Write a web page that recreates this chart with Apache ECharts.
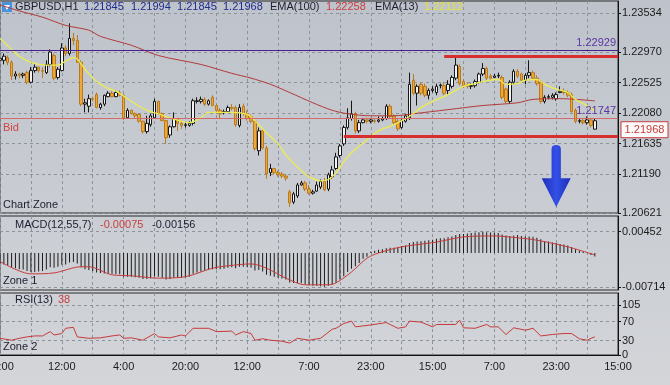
<!DOCTYPE html>
<html><head><meta charset="utf-8">
<script src="https://cdn.jsdelivr.net/npm/echarts@6/dist/echarts.min.js"></script>
<style>html,body{margin:0;padding:0;background:#c9cdd3;}#c{width:670px;height:385px;}</style>
</head><body><div id="c"></div>
<script>
// ---------- data ----------
const timeLabels = ['20:00','12:00','4:00','20:00','12:00','7:00','23:00','15:00','7:00','23:00','15:00'];
const priceTicks = [1.20621,1.21190,1.21635,1.22080,1.22525,1.22970,1.23534];
const macdTicks = [-0.00714, 0.00452];
const rsiTicks = [0,30,70,105];
// [open, close, low, high]
const candles = [
[1.2285,1.2288,1.2281,1.2292],[1.2285,1.2291,1.2279,1.2295],[1.2289,1.2282,1.2278,1.2292],[1.2282,1.2262,1.2256,1.2285],
[1.2262,1.2265,1.2257,1.2269],[1.2265,1.2263,1.2259,1.2267],[1.2263,1.2265,1.2259,1.2267],[1.2267,1.2253,1.2250,1.2270],
[1.2253,1.2270,1.2251,1.2275],[1.2270,1.2275,1.2267,1.2279],[1.2275,1.2270,1.2267,1.2276],[1.2270,1.2269,1.2259,1.2275],
[1.2267,1.2279,1.2265,1.2285],[1.2279,1.2297,1.2276,1.2301],[1.2292,1.2259,1.2256,1.2295],[1.2260,1.2272,1.2257,1.2275],
[1.2270,1.2303,1.2269,1.2310],[1.2303,1.2295,1.2291,1.2307],[1.2295,1.2317,1.2292,1.2339],[1.2317,1.2314,1.2307,1.2325],
[1.2314,1.2282,1.2281,1.2322],[1.2282,1.2221,1.2218,1.2285],[1.2221,1.2223,1.2209,1.2229],[1.2218,1.2229,1.2209,1.2235],
[1.2229,1.2228,1.2225,1.2232],[1.2235,1.2216,1.2215,1.2238],[1.2216,1.2221,1.2213,1.2223],[1.2221,1.2234,1.2218,1.2235],
[1.2232,1.2237,1.2231,1.2240],[1.2237,1.2232,1.2231,1.2240],[1.2232,1.2238,1.2231,1.2241],[1.2238,1.2234,1.2232,1.2241],
[1.2234,1.2201,1.2198,1.2235],[1.2201,1.2212,1.2200,1.2215],[1.2212,1.2207,1.2206,1.2213],[1.2207,1.2204,1.2201,1.2209],
[1.2206,1.2196,1.2194,1.2207],[1.2196,1.2181,1.2178,1.2197],[1.2181,1.2193,1.2178,1.2204],[1.2191,1.2204,1.2188,1.2207],
[1.2201,1.2225,1.2200,1.2229],[1.2225,1.2207,1.2206,1.2226],[1.2207,1.2197,1.2196,1.2209],[1.2197,1.2172,1.2163,1.2198],
[1.2176,1.2188,1.2172,1.2190],[1.2188,1.2200,1.2187,1.2209],[1.2200,1.2193,1.2182,1.2201],[1.2193,1.2190,1.2185,1.2197],
[1.2190,1.2191,1.2187,1.2194],[1.2190,1.2193,1.2188,1.2196],[1.2193,1.2226,1.2190,1.2229],[1.2225,1.2226,1.2222,1.2231],
[1.2225,1.2228,1.2222,1.2232],[1.2228,1.2221,1.2218,1.2231],[1.2221,1.2226,1.2219,1.2228],[1.2231,1.2219,1.2218,1.2234],
[1.2219,1.2212,1.2209,1.2221],[1.2212,1.2207,1.2200,1.2215],[1.2209,1.2210,1.2206,1.2213],[1.2210,1.2216,1.2209,1.2219],
[1.2216,1.2215,1.2212,1.2221],[1.2216,1.2191,1.2188,1.2219],[1.2190,1.2216,1.2187,1.2221],[1.2218,1.2207,1.2204,1.2222],
[1.2207,1.2200,1.2197,1.2212],[1.2203,1.2196,1.2193,1.2206],[1.2196,1.2156,1.2153,1.2198],[1.2153,1.2182,1.2146,1.2187],
[1.2182,1.2157,1.2155,1.2185],[1.2157,1.2119,1.2112,1.2160],[1.2121,1.2127,1.2116,1.2134],[1.2127,1.2121,1.2118,1.2128],
[1.2121,1.2118,1.2115,1.2124],[1.2119,1.2116,1.2113,1.2122],[1.2116,1.2113,1.2109,1.2119],[1.2093,1.2077,1.2071,1.2096],
[1.2078,1.2090,1.2075,1.2093],[1.2087,1.2103,1.2084,1.2106],[1.2103,1.2106,1.2102,1.2109],[1.2106,1.2097,1.2094,1.2109],
[1.2097,1.2091,1.2089,1.2103],[1.2091,1.2093,1.2089,1.2096],[1.2094,1.2103,1.2093,1.2108],[1.2100,1.2108,1.2097,1.2111],
[1.2108,1.2096,1.2094,1.2113],[1.2097,1.2118,1.2094,1.2121],[1.2115,1.2125,1.2112,1.2131],[1.2127,1.2144,1.2125,1.2150],
[1.2146,1.2160,1.2143,1.2163],[1.2163,1.2187,1.2160,1.2190],[1.2187,1.2201,1.2184,1.2215],[1.2200,1.2207,1.2197,1.2226],
[1.2207,1.2182,1.2178,1.2210],[1.2182,1.2194,1.2179,1.2198],[1.2194,1.2198,1.2193,1.2201],[1.2198,1.2196,1.2193,1.2201],
[1.2196,1.2198,1.2193,1.2201],[1.2197,1.2196,1.2193,1.2200],[1.2196,1.2198,1.2194,1.2203],[1.2198,1.2200,1.2196,1.2203],
[1.2200,1.2218,1.2198,1.2221],[1.2218,1.2203,1.2200,1.2221],[1.2204,1.2194,1.2191,1.2206],[1.2196,1.2185,1.2182,1.2200],
[1.2187,1.2197,1.2185,1.2200],[1.2196,1.2204,1.2194,1.2207],[1.2201,1.2250,1.2198,1.2267],[1.2256,1.2237,1.2234,1.2265],
[1.2237,1.2247,1.2219,1.2250],[1.2250,1.2237,1.2234,1.2253],[1.2247,1.2234,1.2231,1.2251],[1.2234,1.2241,1.2228,1.2244],
[1.2241,1.2243,1.2238,1.2247],[1.2238,1.2247,1.2234,1.2251],[1.2248,1.2249,1.2244,1.2251],[1.2248,1.2237,1.2234,1.2253],
[1.2241,1.2250,1.2235,1.2256],[1.2247,1.2260,1.2244,1.2263],[1.2259,1.2278,1.2256,1.2291],[1.2276,1.2251,1.2248,1.2279],
[1.2254,1.2248,1.2245,1.2257],[1.2250,1.2247,1.2244,1.2253],[1.2247,1.2248,1.2243,1.2251],[1.2248,1.2254,1.2245,1.2257],
[1.2253,1.2265,1.2251,1.2267],[1.2265,1.2273,1.2262,1.2281],[1.2273,1.2259,1.2256,1.2276],[1.2262,1.2259,1.2256,1.2265],
[1.2260,1.2262,1.2259,1.2265],[1.2262,1.2263,1.2259,1.2267],[1.2260,1.2231,1.2228,1.2263],[1.2243,1.2225,1.2222,1.2245],
[1.2225,1.2253,1.2222,1.2256],[1.2253,1.2269,1.2250,1.2272],[1.2269,1.2262,1.2259,1.2272],[1.2265,1.2256,1.2253,1.2267],
[1.2256,1.2263,1.2250,1.2266],[1.2263,1.2267,1.2259,1.2285],[1.2267,1.2259,1.2256,1.2270],[1.2259,1.2251,1.2248,1.2263],
[1.2253,1.2225,1.2222,1.2256],[1.2225,1.2231,1.2222,1.2234],[1.2231,1.2232,1.2228,1.2235],[1.2231,1.2234,1.2228,1.2237],
[1.2229,1.2235,1.2226,1.2238],[1.2238,1.2240,1.2237,1.2247],[1.2240,1.2238,1.2235,1.2244],[1.2238,1.2234,1.2231,1.2241],
[1.2235,1.2210,1.2209,1.2238],[1.2212,1.2196,1.2193,1.2215],[1.2196,1.2197,1.2193,1.2200],[1.2197,1.2194,1.2191,1.2200],
[1.2194,1.2198,1.2191,1.2203],[1.2198,1.2190,1.2187,1.2201],[1.21845,1.21968,1.21845,1.21994]
];
// [bar index, value]
const ema13 = [[0,1.2317],[3,1.2301],[5,1.2291],[8,1.2282],[12,1.2278],[15,1.2278],[17,1.2284],[19,1.2289],[20,1.2287],
[22,1.2272],[25,1.2254],[28,1.2244],[30,1.2240],[33,1.2229],[36,1.2218],[39,1.2210],[41,1.2207],[44,1.2201],[47,1.2196],
[49,1.2194],[52,1.2201],[54,1.2209],[57,1.2209],[60,1.2209],[64,1.2206],[66,1.2197],[69,1.2179],[72,1.2163],[74,1.2147],
[78,1.2124],[80,1.2115],[83,1.2109],[85,1.2111],[87,1.2121],[89,1.2137],[91,1.2150],[95,1.2169],[98,1.2182],[102,1.2191],
[104,1.2197],[106,1.2203],[109,1.2216],[112,1.2225],[116,1.2235],[120,1.2247],[123,1.2251],[125,1.2254],[129,1.2257],
[131,1.2250],[134,1.2251],[136,1.2256],[139,1.2257],[141,1.2250],[144,1.2243],[147,1.2238],[149,1.2228],[152,1.2219],[154,1.22112]];
const ema100 = [[0,1.2366],[5,1.2357],[11,1.2348],[17,1.2336],[23,1.2329],[26,1.2320],[34,1.2307],[41,1.2292],[52,1.2279],
[60,1.2266],[65,1.2259],[70,1.2250],[75,1.2238],[81,1.2223],[86,1.2212],[90,1.2207],[96,1.2204],[102,1.2204],[107,1.2207],
[116,1.2213],[125,1.2219],[134,1.2223],[138,1.2228],[145,1.2229],[149,1.2228],[154,1.22258]];
const macdHist = [
-0.0022,-0.0024,-0.0026,-0.0030,-0.0032,-0.0034,-0.0035,-0.0038,-0.0040,
-0.0040,-0.0039,-0.0038,-0.0035,-0.0030,-0.0031,-0.0029,-0.0025,-0.0024,-0.0020,
-0.0019,-0.0022,-0.0030,-0.0034,-0.0036,
-0.0038,-0.0041,-0.0042,-0.0043,-0.0043,-0.0044,-0.0045,
-0.0045,-0.0050,-0.0050,-0.0050,-0.0051,-0.0052,-0.0055,-0.0055,-0.0053,-0.0049,-0.0050,-0.0052,-0.0056,
-0.0055,-0.0052,-0.0052,-0.0052,-0.0051,-0.0050,-0.0044,-0.0041,-0.0039,-0.0037,-0.0035,-0.0034,
-0.0034,-0.0034,-0.0033,-0.0031,-0.0030,-0.0032,-0.0029,-0.0029,-0.0030,-0.0031,-0.0037,-0.0036,
-0.0039,-0.0046,-0.0048,-0.0050,-0.0052,-0.0054,-0.0056,-0.0062,-0.0063,-0.0063,-0.0064,-0.0066,-0.0068,-0.0069,-0.0069,-0.0070,-0.0071,-0.0069,-0.0067,
-0.0063,-0.0056,-0.0049,-0.0040,-0.0033,-0.0028,-0.0021,-0.0012,-0.0008,
0.0003,0.0005,0.0007,0.0008,0.0010,0.0011,0.0011,0.0012,
0.0015,0.0016,0.0021,0.0023,0.0024,0.0025,0.0026,0.0027,0.0028,
0.0030,0.0031,0.0031,0.0033,0.0035,0.0038,0.0040,0.0040,0.0041,0.0042,0.0043,0.0044,0.0045,0.0044,0.0043,0.0043,
0.0042,0.0039,0.0037,0.0036,0.0037,0.0038,0.0036,0.0035,0.0035,0.0034,0.0032,0.0029,
0.0025,0.0024,0.0022,0.0021,0.0019,0.0018,0.0016,0.0012,0.0008,0.0005,0.0003,0.0001,-0.0004,-0.00075];
const macdSignal = [[0,-0.0018],[8,-0.0044],[14,-0.0042],[21,-0.0029],[23,-0.0029],[29,-0.0046],[34,-0.0048],[41,-0.0053],
[48,-0.0050],[55,-0.0032],[59,-0.0027],[65,-0.0023],[69,-0.0032],[74,-0.0053],[79,-0.0067],[85,-0.0067],[87,-0.0063],
[91,-0.0040],[95,-0.0011],[98,0.0000],[104,0.0013],[113,0.0023],[120,0.0034],[128,0.0036],[134,0.0032],[139,0.0027],
[147,0.0013],[154,-0.0004]];
const macdTitle = ['-0.00075','-0.00156'];
const rsi = [[0,35],[3,31],[5,35],[7,38],[9,40],[11,40],[13,49],[14,42],[16,45],[17,56],[19,58],[20,38],[23,35],[26,36],
[29,40],[31,42],[32,35],[34,36],[37,31],[40,45],[41,38],[44,36],[47,42],[48,40],[50,56],[54,56],[56,49],[60,50],[61,42],
[63,49],[65,45],[66,31],[68,34],[70,31],[73,29],[75,25],[77,35],[80,31],[83,35],[86,54],[87,56],[89,66],[91,71],[92,59],
[96,63],[100,68],[103,56],[105,59],[106,71],[109,69],[112,59],[113,64],[118,64],[119,73],[120,57],[123,56],[126,64],
[127,59],[129,59],[131,43],[133,57],[136,52],[138,56],[140,40],[143,43],[146,45],[148,45],[150,34],[152,31],[153,35],[154,38]];
const purpleHigh = 1.22929, purpleLow = 1.21747, bidPrice = 1.21968;
const resistance = [115, 1.2291];   // [start bar, price]
const support = [89, 1.2174];
const arrowAt = [144, 1.2116];

// ---------- chart ----------
const FONT = '"Liberation Sans", Arial, sans-serif';
const N = 161;
const cats = Array.from({length: N}, (_, i) => String(i));
const GRID = '#8d939b';
function xAxis(gi, labels) {
  return {type:'category', gridIndex:gi, data:cats, boundaryGap:false,
    axisLine:{show:labels, lineStyle:{color:'#111'}}, axisTick:{show:false},
    axisLabel:{show:labels, interval:15, color:'#1c1c1c', fontSize:11, fontFamily:FONT, margin:6, hideOverlap:false,
      formatter:(v, i) => timeLabels[Math.round(i/16)] || ''},
    splitLine:{show:true, interval:7, lineStyle:{color:GRID, type:[3,3], width:1}}};
}
function yAxis(gi, min, max, ticks, fmt) {
  return {type:'value', gridIndex:gi, position:'right', min:min, max:max,
    axisLine:{show:true, lineStyle:{color:'#111'}},
    axisTick:{show:true, length:3, customValues:ticks, lineStyle:{color:'#111'}},
    axisLabel:{customValues:ticks, formatter:fmt, color:'#1c1c1c', fontSize:11, fontFamily:FONT, margin:4},
    splitLine:{show:true, lineStyle:{color:GRID, type:[3,3], width:1}}};
}
const gridBase = {left:0, right:52, containLabel:false, outerBoundsMode:'none', show:true, borderColor:'#2a2a2a', borderWidth:1, backgroundColor:'transparent'};
const chart = echarts.init(document.getElementById('c'), null, {width:670, height:385});
const option = {
  animation:false,
  backgroundColor:{type:'linear', x:0, y:0, x2:0, y2:1, colorStops:[{offset:0, color:'#bec3cb'},{offset:1, color:'#d3d5d9'}]},
  grid:[Object.assign({top:1, height:212}, gridBase), Object.assign({top:216, height:74}, gridBase), Object.assign({top:293, height:62}, gridBase)],
  xAxis:[xAxis(0,false), xAxis(1,false), xAxis(2,true)],
  yAxis:[yAxis(0, 1.20621, 1.23716, priceTicks, v => v.toFixed(5)),
         yAxis(1, -0.0078, 0.0078, macdTicks, v => v.toFixed(5)),
         yAxis(2, 0, 130, rsiTicks, v => String(v))],
  series:[
    {type:'candlestick', xAxisIndex:0, yAxisIndex:0, data:candles, barWidth:3,
     itemStyle:{color:'#f3f3f3', color0:'#eea73a', borderColor:'#161616', borderColor0:'#bb7a1a', borderWidth:1},
     markLine:{silent:true, symbol:'none', animation:false, data:[
       {yAxis:purpleHigh, lineStyle:{color:'#4a1f92', width:1, type:'solid'},
        label:{show:true, position:'insideEndTop', formatter:purpleHigh.toFixed(5), color:'#5b34a6', fontSize:11, fontFamily:FONT, distance:[2,2]}},
       {yAxis:purpleLow, lineStyle:{color:'#4a1f92', width:1, type:'solid'},
        label:{show:true, position:'insideEndTop', formatter:purpleLow.toFixed(5), color:'#5b34a6', fontSize:11, fontFamily:FONT, distance:[2,2]}},
       {yAxis:bidPrice, lineStyle:{color:'#d56a6a', width:1, type:'solid'},
        label:{show:true, position:'insideStartBottom', formatter:'Bid', color:'#d04646', fontSize:11, fontFamily:FONT, distance:[3,4]}},
       [{coord:[resistance[0], resistance[1]], lineStyle:{color:'#d92e2e', width:3, type:'solid'}, label:{show:false}}, {coord:[N-1, resistance[1]]}],
       [{coord:[support[0], support[1]], lineStyle:{color:'#d92e2e', width:3, type:'solid'}, label:{show:false}}, {coord:[N-1, support[1]]}]
     ]},
     markPoint:{silent:true, animation:false, label:{show:false}, data:[
       {coord:arrowAt, symbol:'path://M9.5,4 Q9.5,0 14,0 Q18.5,0 18.5,4 L18.5,32 L28,32 L14,60 L0,32 L9.5,32 Z', symbolSize:[29,62],
        itemStyle:{color:{type:'linear', x:0, y:0, x2:1, y2:0, colorStops:[{offset:0,color:'#1c2db8'},{offset:0.5,color:'#3450e6'},{offset:1,color:'#1c2db8'}]}}}
     ]}},
    {type:'line', xAxisIndex:0, yAxisIndex:0, data:ema100, showSymbol:false, smooth:0.3, lineStyle:{color:'#b23a3a', width:1}},
    {type:'line', xAxisIndex:0, yAxisIndex:0, data:ema13, showSymbol:false, smooth:0.4, lineStyle:{color:'#ecec50', width:1.3}},
    {type:'bar', xAxisIndex:1, yAxisIndex:1, data:macdHist, barWidth:1, itemStyle:{color:'#1c1c1c'}},
    {type:'line', xAxisIndex:1, yAxisIndex:1, data:macdSignal, showSymbol:false, smooth:0.3, lineStyle:{color:'#c63b3b', width:1}},
    {type:'line', xAxisIndex:2, yAxisIndex:2, data:rsi, showSymbol:false, lineStyle:{color:'#c63b3b', width:1}}
  ]
};
chart.setOption(option);

const last = candles[candles.length-1];
const yBid = chart.convertToPixel({yAxisIndex:0}, bidPrice);
function txt(text, x, y, fill) {
  return {type:'text', x:x, y:y, silent:true, style:{text:text, fill:fill, font:'11px ' + FONT, textVerticalAlign:'middle'}};
}
const dark = '#1d1d30', navy = '#1f2c8f', red = '#c94040';
chart.setOption({graphic:[
  {type:'rect', shape:{x:2, y:2, width:10, height:10}, style:{fill:'#4a93dc'}},
  {type:'polygon', shape:{points:[[4,5],[10,5],[7,10]]}, style:{fill:'#ffffff'}},
  txt('GBPUSD,H1', 15, 7, dark),
  txt(last[0].toFixed(5), 84, 7, navy),
  txt(last[3].toFixed(5), 131, 7, navy),
  txt(last[2].toFixed(5), 177, 7, navy),
  txt(last[1].toFixed(5), 223, 7, navy),
  txt('EMA(100)', 270, 7, dark),
  txt(ema100[ema100.length-1][1].toFixed(5), 326, 7, red),
  txt('EMA(13)', 375, 7, dark),
  txt(ema13[ema13.length-1][1].toFixed(5), 424, 7, '#e2e23a'),
  txt('Chart Zone', 3, 205, dark),
  txt('MACD(12,55,7)', 15, 225, dark),
  txt(macdTitle[0], 100, 225, red),
  txt(macdTitle[1], 152, 225, dark),
  txt('Zone 1', 3, 281, dark),
  txt('RSI(13)', 15, 300, dark),
  txt(String(rsi[rsi.length-1][1]), 58, 300, red),
  txt('Zone 2', 3, 347, dark),
  {type:'rect', shape:{x:621, y:yBid+1, width:47, height:16}, style:{fill:'#fafafa', stroke:'#c83a3a', lineWidth:1}},
  {type:'text', x:644.5, y:yBid+9, style:{text:bidPrice.toFixed(5), fill:'#c83a3a', font:'11px ' + FONT, textAlign:'center', textVerticalAlign:'middle'}}
]});
</script></body></html>
